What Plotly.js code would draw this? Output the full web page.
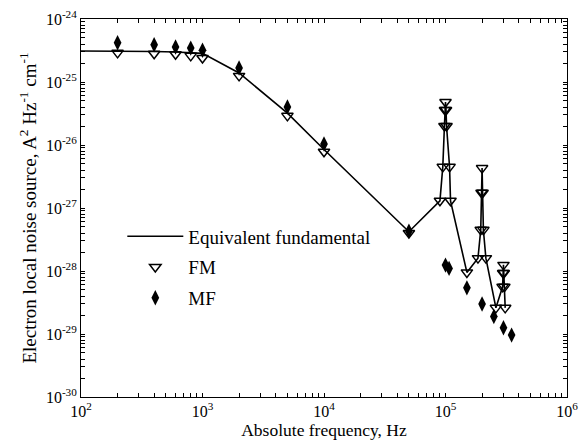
<!DOCTYPE html>
<html>
<head>
<meta charset="utf-8">
<script src="https://cdn.plot.ly/plotly-3.0.1.min.js"></script>
<style>html,body{margin:0;padding:0;background:#fff;}#chart{width:582px;height:444px;}</style>
</head>
<body>
<div id="chart"></div>
<script>
// Equivalent fundamental (line)
const lineFreq = [100,200,400,600,800,1000,2000,5000,1e4,5e4,
  9e4,9.5e4,9.8e4,9.9e4,1e5,1.01e5,1.02e5,1.08e5,1.1e5,
  1.5e5,
  1.85e5,1.95e5,1.98e5,2e5,2.02e5,2.05e5,2.15e5,
  2.6e5,2.95e5,2.98e5,3e5,3.02e5,3.05e5,3.1e5];
const lineValue = [3.1e-25,3.1e-25,3.05e-25,3.0e-25,2.95e-25,2.85e-25,1.39e-25,3.2e-26,8.5e-27,4.2e-28,
  1.3e-27,4.5e-27,2.0e-26,3.6e-26,4.8e-26,3.6e-26,2.0e-26,4.5e-27,1.3e-27,
  9.5e-29,
  1.6e-28,4.5e-28,1.75e-27,4.3e-27,1.75e-27,4.5e-28,1.6e-28,
  2.6e-29,5.6e-29,9.3e-29,1.25e-28,9.3e-29,5.6e-29,2.6e-29];

// FM (open down triangles)
const fmFreq = [200,400,600,800,1000,2000,5000,1e4,5e4,
  9e4,9.5e4,9.8e4,9.9e4,1e5,1.01e5,1.02e5,1.08e5,1.1e5,
  1.5e5,
  1.85e5,1.95e5,1.98e5,2e5,2.02e5,2.05e5,2.15e5,
  2.6e5,2.95e5,2.98e5,3e5,3.02e5,3.05e5,3.1e5];
const fmValue = [2.9e-25,2.8e-25,2.75e-25,2.6e-25,2.4e-25,1.25e-25,2.9e-26,7.8e-27,4.0e-28,
  1.3e-27,4.5e-27,2.0e-26,3.6e-26,4.8e-26,3.6e-26,2.0e-26,4.5e-27,1.3e-27,
  9.5e-29,
  1.6e-28,4.5e-28,1.75e-27,4.3e-27,1.75e-27,4.5e-28,1.6e-28,
  2.6e-29,5.6e-29,9.3e-29,1.25e-28,9.3e-29,5.6e-29,2.6e-29];

// MF (filled diamonds)
const mfFreq = [200,400,600,800,1000,2000,5000,1e4,5e4,1e5,1.07e5,1.5e5,2e5,2.5e5,3e5,3.5e5];
const mfValue = [4.2e-25,3.9e-25,3.6e-25,3.45e-25,3.2e-25,1.67e-25,4.0e-26,1.04e-26,4.3e-28,1.24e-28,1.1e-28,5.4e-29,3.0e-29,1.9e-29,1.26e-29,9.6e-30];

// tick positions: decades plus digits 2..9 of each decade
const xDecades = [2,3,4,5,6];
const yDecades = [-30,-29,-28,-27,-26,-25,-24];
const minorDigits = [2,3,4,5,6,7,8,9];
function allTicks(decs) {
  const vals = [], text = [];
  decs.forEach((d, i) => {
    vals.push(Math.pow(10, d));
    text.push('10<sup>' + d + '</sup>');
    if (i < decs.length - 1) minorDigits.forEach(m => { vals.push(m * Math.pow(10, d)); text.push(''); });
  });
  return {vals, text};
}
const xT = allTicks(xDecades);
const yT = allTicks(yDecades);

const FONT = 'Liberation Serif';

const traces = [
  {x: lineFreq, y: lineValue, type: 'scatter', mode: 'lines', name: 'Equivalent fundamental',
   line: {color: '#000', width: 1.6}, legendgroup: 'a'},
  {x: fmFreq, y: fmValue, type: 'scatter', mode: 'markers', name: 'FM', legendgroup: 'b',
   marker: {symbol: 'triangle-down-open', size: 10, color: '#000', line: {color: '#000', width: 1.5}}},
  {x: mfFreq, y: mfValue, type: 'scatter', mode: 'markers', name: 'MF', legendgroup: 'c',
   marker: {symbol: 'diamond-tall', size: 11, color: '#000', line: {color: '#000', width: 0}}}
];

const axisCommon = {
  type: 'log', showgrid: false, zeroline: false, showline: true, linecolor: '#000', linewidth: 1,
  mirror: 'allticks', ticks: 'inside', ticklen: 4, tickwidth: 1, tickcolor: '#000',
  tickmode: 'array',
  tickfont: {family: FONT, size: 16, color: '#000'}
};

const layout = {
  width: 582, height: 444,
  margin: {l: 81, r: 15, t: 19, b: 47},
  paper_bgcolor: '#fff', plot_bgcolor: '#fff',
  font: {family: FONT, color: '#000'},
  showlegend: true,
  legend: {x: 0.085, y: 0.475, xanchor: 'left', yanchor: 'top', bgcolor: 'rgba(0,0,0,0)',
    font: {family: FONT, size: 19, color: '#000'}, tracegroupgap: 3, itemwidth: 56},
  xaxis: Object.assign({}, axisCommon, {
    range: [2, 6], tickvals: xT.vals, ticktext: xT.text,
    title: {text: 'Absolute frequency, Hz', font: {family: FONT, size: 17.5, color: '#000'}, standoff: 4}
  }),
  yaxis: Object.assign({}, axisCommon, {
    range: [-30, -24], tickvals: yT.vals, ticktext: yT.text,
    title: {text: 'Electron local noise source, A<sup>2</sup> Hz<sup>-1</sup> cm<sup>-1</sup>', font: {family: FONT, size: 19, color: '#000'}, standoff: 4}
  })
};

Plotly.newPlot('chart', traces, layout, {staticPlot: true, displayModeBar: false});
</script>
</body>
</html>
